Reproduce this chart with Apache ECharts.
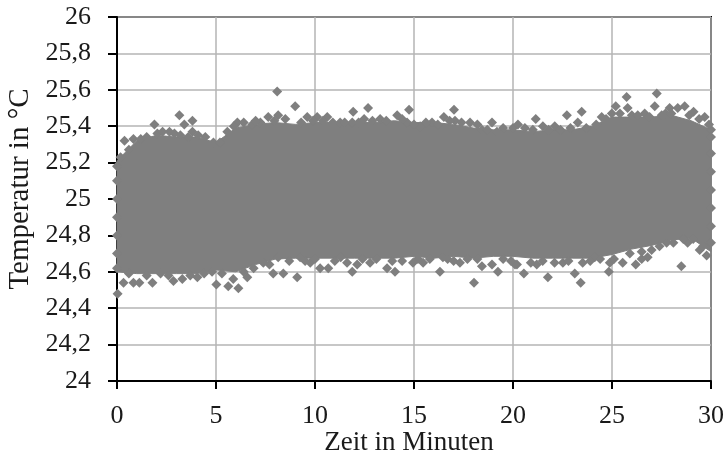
<!DOCTYPE html>
<html><head><meta charset="utf-8">
<script src="https://cdn.jsdelivr.net/npm/echarts@6/dist/echarts.min.js"></script>
<style>html,body{margin:0;padding:0;background:#fff}#c{width:727px;height:453px}</style></head>
<body><div id="c"></div>
<script>
const xTicks = [0,5,10,15,20,25,30];
const yTicks = ['24','24,2','24,4','24,6','24,8','25','25,2','25,4','25,6','25,8','26'];
const bandTime = [0,1,2,3,4,5,6,7,8,9,10,11,12,13,14,15,16,17,18,19,20,21,22,23,24,25,26,27,28,29,30];
const bandUpper = [25.21,25.32,25.35,25.34,25.34,25.31,25.39,25.41,25.42,25.41,25.42,25.42,25.42,25.42,25.43,25.42,25.42,25.41,25.39,25.38,25.38,25.37,25.38,25.38,25.40,25.45,25.45,25.45,25.46,25.43,25.38];
const bandLower = [24.60,24.59,24.59,24.59,24.59,24.61,24.60,24.64,24.67,24.675,24.675,24.675,24.675,24.675,24.675,24.685,24.675,24.685,24.675,24.685,24.685,24.675,24.675,24.675,24.675,24.695,24.725,24.745,24.775,24.785,24.71];
const upperPoints = [[8.09,25.59],[9.00,25.51],[3.15,25.46],[1.89,25.41],[3.40,25.41],[3.81,25.43],[3.81,25.37],[0.38,25.32],[9.61,25.45],[6.08,25.42],[7.64,25.45],[8.14,25.46],[2.65,25.37],[0.83,25.33],[2.04,25.36],[3.20,25.35],[4.46,25.34],[4.87,25.31],[5.57,25.37],[6.83,25.41],[7.24,25.42],[0.18,25.23],
[12.68,25.50],[11.93,25.48],[12.48,25.44],[14.75,25.49],[17.02,25.49],[16.51,25.45],[14.15,25.46],[13.29,25.44],[10.11,25.45],[10.62,25.45],[11.27,25.42],[11.88,25.42],[14.65,25.42],[15.91,25.42],[17.07,25.43],[17.83,25.42],[18.94,25.42],[19.19,25.37],[20.00,25.39],[15.31,25.40],[18.43,25.38],
[25.74,25.56],[27.26,25.58],[21.15,25.44],[22.72,25.46],[23.47,25.48],[23.27,25.42],[25.19,25.51],[25.79,25.50],[27.16,25.51],[24.48,25.45],[24.99,25.47],[26.65,25.47],[27.91,25.50],[28.32,25.50],[28.67,25.51],[29.12,25.48],[29.68,25.45],[22.11,25.40],[21.51,25.40],[20.25,25.41],[27.51,25.46],[26.00,25.46],[30.00,25.38],
[0.6,25.27],[1.2,25.33],[1.5,25.34],[2.3,25.37],[2.9,25.36],[3.6,25.34],[4.1,25.35],[5.2,25.31],[5.9,25.40],[6.4,25.42],[7.0,25.43],[7.95,25.43],[8.5,25.44],[9.3,25.42],[9.9,25.43],[10.4,25.43],[10.9,25.42],[11.5,25.42],[12.2,25.42],[12.9,25.43],[13.6,25.43],[14.4,25.44],[15.0,25.41],[15.6,25.42],[16.2,25.41],[16.8,25.43],[17.4,25.42],[18.2,25.41],[18.7,25.38],[19.5,25.39],[20.6,25.39],[21.0,25.38],[21.8,25.38],[22.4,25.38],[22.9,25.39],[23.7,25.39],[24.2,25.41],[24.7,25.44],[25.4,25.47],[26.3,25.46],[26.9,25.45],[27.7,25.47],[28.0,25.47],[28.9,25.46],[29.4,25.44],[29.9,25.41]];
const lowerPoints = [[0.03,24.48],[0.33,24.54],[0.83,24.54],[1.13,24.54],[1.79,24.54],[2.85,24.55],[3.30,24.56],[4.06,24.57],[5.02,24.53],[5.62,24.52],[6.13,24.51],[5.87,24.56],[6.58,24.57],[9.10,24.57],[7.89,24.59],[8.40,24.59],[7.39,24.65],[9.25,24.68],[8.14,24.68],
[18.03,24.54],[19.24,24.60],[16.31,24.60],[11.88,24.60],[14.04,24.60],[13.64,24.62],[10.26,24.62],[10.67,24.62],[12.13,24.64],[14.95,24.65],[15.46,24.65],[17.32,24.65],[18.43,24.63],[11.62,24.65],[9.76,24.65],[12.78,24.65],[16.46,24.68],[18.94,24.64],[20.20,24.64],
[20.55,24.59],[21.76,24.57],[23.12,24.59],[23.42,24.54],[24.84,24.60],[26.20,24.64],[28.50,24.63],[25.54,24.65],[26.80,24.68],[21.20,24.64],[22.52,24.65],[23.52,24.65],[24.13,24.68],[29.78,24.69],[29.43,24.72],[27.76,24.76],[28.82,24.76],[24.89,24.65],[26.50,24.67],[20.10,24.64],
[0.6,24.59],[1.5,24.58],[2.2,24.59],[2.6,24.58],[3.7,24.58],[4.4,24.59],[4.8,24.60],[5.3,24.59],[6.4,24.60],[6.9,24.62],[7.7,24.64],[8.7,24.66],[9.5,24.66],[10.0,24.67],[11.0,24.66],[11.3,24.68],[12.4,24.67],[13.1,24.67],[13.9,24.66],[14.4,24.66],[15.2,24.67],[15.8,24.67],[16.7,24.67],[17.0,24.66],[17.7,24.67],[18.2,24.67],[19.5,24.67],[19.9,24.66],[20.9,24.65],[21.5,24.66],[22.1,24.65],[22.8,24.66],[23.9,24.66],[24.4,24.67],[25.1,24.67],[25.9,24.70],[26.5,24.71],[27.0,24.72],[27.4,24.74],[28.1,24.76],[28.6,24.78],[29.1,24.78],[29.6,24.74]];
const sidePoints = [[0,25.18],[0,25.1],[0,25.0],[0,24.9],[0,24.8],[0,24.7],[0,24.62],[30,25.34],[30,25.25],[30,25.15],[30,25.05],[30,24.95],[30,24.85],[30,24.76]];

const gray = '#7f7f7f';
const font = 'Liberation Serif';
const chart = echarts.init(document.getElementById('c'), null, {renderer:'canvas'});
const bandData = bandTime.map((t,i)=>[t,bandLower[i],bandUpper[i]]);
const dotSeries = d => ({type:'scatter',clip:false,silent:true,symbol:'diamond',symbolSize:10,itemStyle:{color:gray,opacity:1},data:d,z:3});
chart.setOption({
  animation:false,
  grid:{left:117,top:17,width:594,height:364,outerBoundsMode:'none',show:true,borderColor:'#000',borderWidth:2,backgroundColor:'#fff'},
  xAxis:{type:'value',min:0,max:30,interval:5,name:'Zeit in Minuten',nameLocation:'middle',nameGap:48,nameMoveOverlap:false,
    nameTextStyle:{fontFamily:font,fontSize:27,color:'#1a1a1a',padding:[0,10,0,0]},
    axisLine:{show:true,onZero:false,lineStyle:{color:'#000',width:2}},
    axisTick:{show:true,length:8,lineStyle:{color:'#000',width:2}},
    axisLabel:{margin:22,fontFamily:font,fontSize:26,color:'#1a1a1a',formatter:v=>String(v)},
    splitLine:{show:true,lineStyle:{color:'#b4b4b4',width:1.5}}},
  yAxis:{type:'value',min:24,max:26,interval:0.2,name:'Temperatur in °C',nameLocation:'middle',nameGap:82,nameMoveOverlap:false,
    nameTextStyle:{fontFamily:font,fontSize:29,color:'#1a1a1a',padding:[0,0,0,20]},
    axisLine:{show:true,onZero:false,lineStyle:{color:'#000',width:2}},
    axisTick:{show:true,length:9,lineStyle:{color:'#000',width:2}},
    axisLabel:{margin:26,fontFamily:font,fontSize:26,color:'#1a1a1a',formatter:v=>yTicks[Math.round((v-24)/0.2)]},
    splitLine:{show:true,lineStyle:{color:'#b4b4b4',width:1.5}}},
  series:[
    {type:'custom',coordinateSystem:'cartesian2d',clip:false,silent:true,data:bandData,encode:{x:0,y:[1,2]},z:2,
     renderItem:(params,api)=>{
       if(params.dataIndex!==0) return null;
       const up=bandData.map(d=>api.coord([d[0],d[2]]));
       const lo=bandData.map(d=>api.coord([d[0],d[1]])).reverse();
       return {type:'polygon',shape:{points:up.concat(lo)},style:{fill:gray,stroke:gray,lineWidth:1}};
     }},
    dotSeries(upperPoints),dotSeries(lowerPoints),dotSeries(sidePoints)
  ]
});
</script></body></html>
